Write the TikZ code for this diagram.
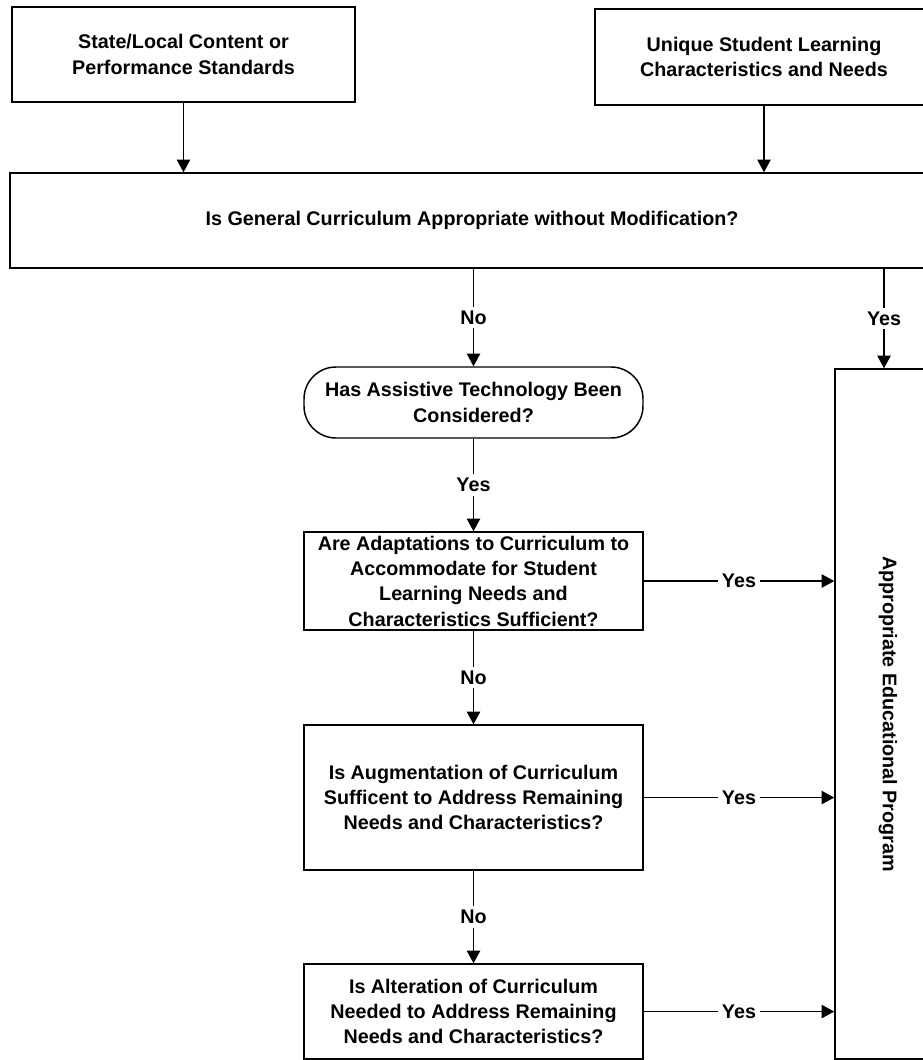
\documentclass[tikz,border=0pt]{standalone}
\usepackage{fontspec}
\setmainfont{Liberation Sans}
\usetikzlibrary{positioning, arrows.meta}

\begin{document}
\begin{tikzpicture}[x=0.75pt, y=-0.75pt, on grid, >={Triangle[length=9.5pt, width=10pt]},
        every node/.style={font=\fontsize{14.8}{19}\selectfont\bfseries},
        box/.style={draw, line width=1.1pt, align=center, inner sep=2pt},
        term/.style={box, rounded corners=24pt},
        ans/.style={fill=white, inner sep=3pt},
        flow/.style={->, line width=1.1pt}]
        \useasboundingbox (0,0) rectangle (923,1060);
        \clip (0,0) rectangle (923,1060);

        \node[box, minimum width=257.25pt, minimum height=71.25pt] (std) at (183.5,54.5) {State/Local Content or\\Performance Standards};
        \node[box, minimum width=253.5pt, minimum height=72pt] (needs) at (764,57) {Unique Student Learning\\Characteristics and Needs};
        \node[box, minimum width=693pt, minimum height=71.25pt] (gen) at (472,220.5) {Is General Curriculum Appropriate without Modification?};

        \node[term, minimum width=254.25pt, minimum height=53.25pt] (tech) at (473.5,402.5) {Has Assistive Technology Been\\Considered?};
        \node[box, minimum width=254.25pt, minimum height=73.5pt, below=133.9pt of tech] (adapt) {Are Adaptations to Curriculum to\\Accommodate for Student\\Learning Needs and\\Characteristics Sufficient?};
        \node[box, minimum width=254.25pt, minimum height=108.75pt, below=162.4pt of adapt] (augment) {Is Augmentation of Curriculum\\Sufficent to Address Remaining\\Needs and Characteristics?};
        \node[box, minimum width=254.25pt, minimum height=71.25pt, below=160.5pt of augment] (alter) {Is Alteration of Curriculum\\Needed to Address Remaining\\Needs and Characteristics?};

        \node[box, minimum width=73.5pt, minimum height=517.5pt, label={[rotate=-90, yshift=3pt]center:Appropriate Educational Program}] (prog) at (884,714) {};

        \draw[flow] (std) -- (std |- gen.north);
        \draw[flow] (needs) -- (needs |- gen.north);
        \draw[flow] (tech |- gen.south) -- node[ans] {No} (tech);
        \draw[flow] (prog.north |- gen.south) -- node[ans] {Yes} (prog);
        \draw[flow] (tech) -- node[ans] {Yes} (adapt);
        \draw[flow] (adapt) -- node[ans] {No} (augment);
        \draw[flow] (augment) -- node[ans] {No} (alter);
        \foreach \n in {adapt, augment, alter}
            \draw[flow] (\n) -- node[ans] {Yes} (\n -| prog.west);
    \end{tikzpicture}
\end{document}
